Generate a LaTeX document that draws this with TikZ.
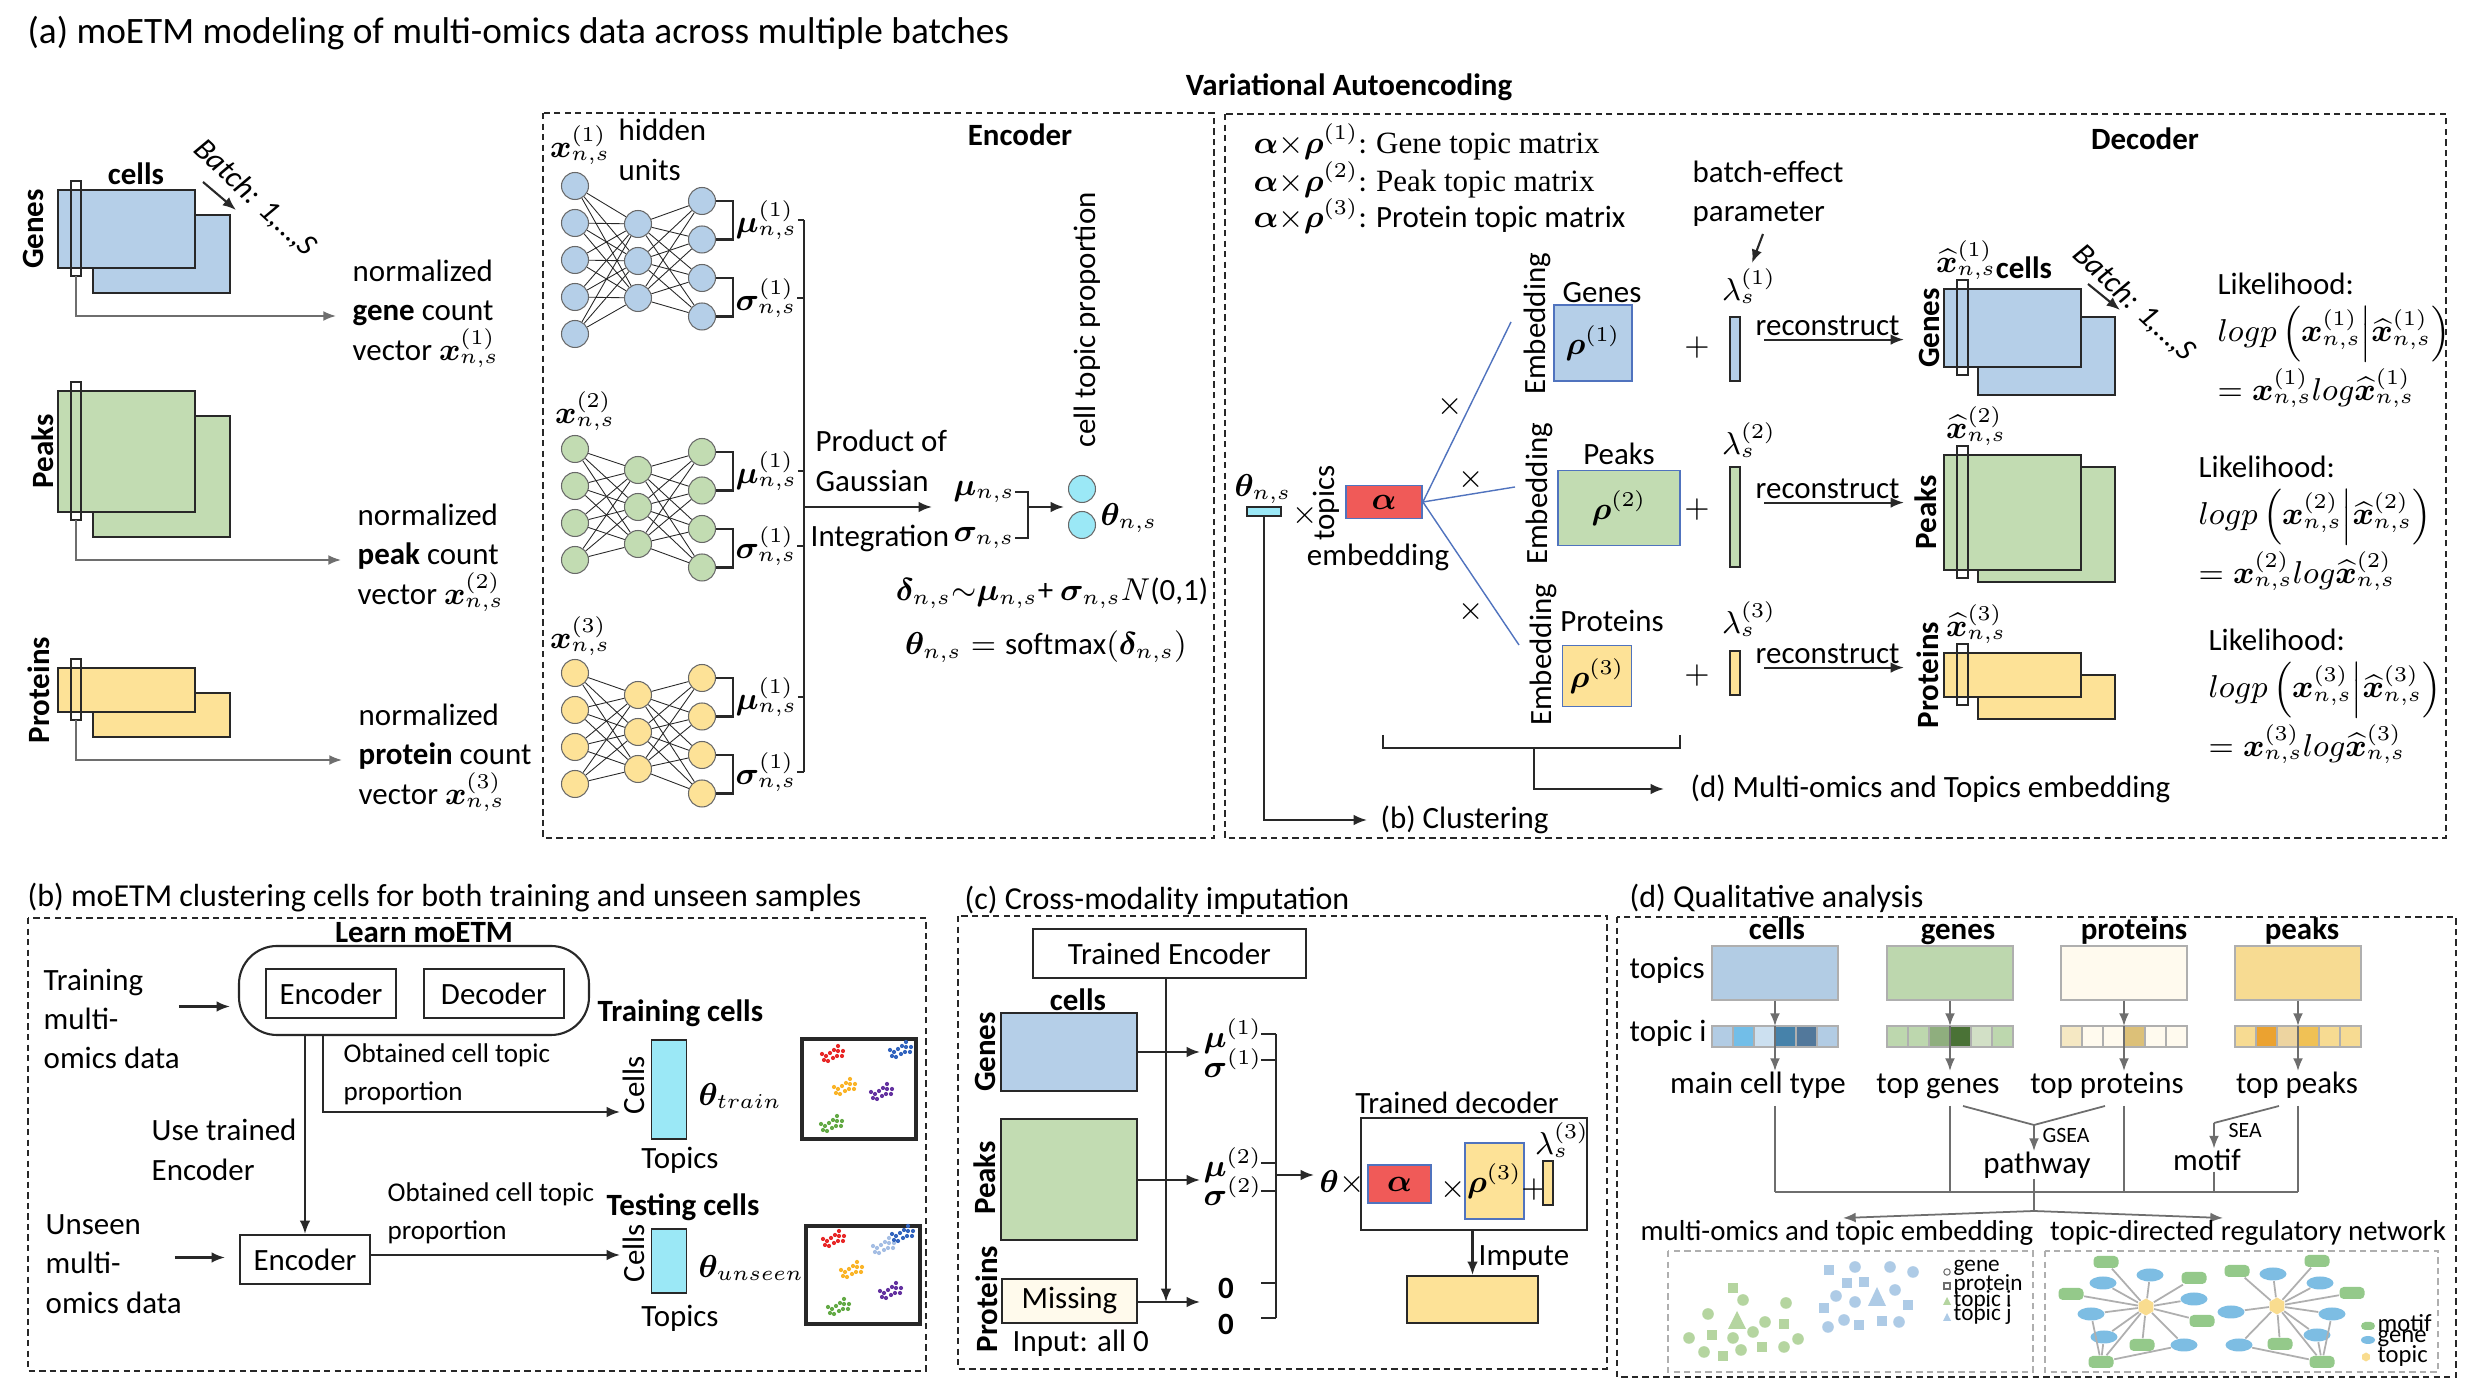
\documentclass[tikz,border=0pt]{standalone}
\usepackage{amsmath,amssymb,bm}
\usepackage{fontspec}
\setmainfont{Carlito}
\newfontfamily\serf{Liberation Serif}
\usetikzlibrary{arrows.meta, positioning, shapes.geometric, calc}
% modality colours
\definecolor{CB}{RGB}{181,207,232}
\definecolor{CG}{RGB}{194,220,178}
\definecolor{CY}{RGB}{253,226,151}
\definecolor{CR}{RGB}{240,90,88}
\definecolor{CC}{RGB}{155,232,246}
\definecolor{CW}{RGB}{255,250,236}
\definecolor{BE}{RGB}{80,115,190}
\definecolor{DG}{RGB}{40,40,40}
\definecolor{MG}{RGB}{110,110,110}
\definecolor{LG}{RGB}{175,175,175}
% scatter and network colours
\definecolor{SG}{RGB}{181,213,160}
\definecolor{SB}{RGB}{174,203,230}
\definecolor{NM}{RGB}{148,201,138}
\definecolor{NB}{RGB}{125,189,227}
\definecolor{NT}{RGB}{249,220,143}
\definecolor{DR}{RGB}{232,40,40}
\definecolor{DB}{RGB}{50,100,190}
\definecolor{DO}{RGB}{250,180,40}
\definecolor{DP}{RGB}{100,50,160}
\definecolor{DV}{RGB}{100,170,70}
\definecolor{DL}{RGB}{165,190,228}
% topic-i strips
\definecolor{ZA0}{RGB}{178,204,228}\definecolor{ZA1}{RGB}{178,204,228}\definecolor{ZA2}{RGB}{114,190,232}
\definecolor{ZA3}{RGB}{204,224,240}\definecolor{ZA4}{RGB}{70,130,170}\definecolor{ZA5}{RGB}{82,120,155}
\definecolor{ZA6}{RGB}{178,204,228}
\definecolor{ZB0}{RGB}{189,215,174}\definecolor{ZB1}{RGB}{189,215,174}\definecolor{ZB2}{RGB}{189,215,174}
\definecolor{ZB3}{RGB}{143,174,126}\definecolor{ZB4}{RGB}{74,114,54}\definecolor{ZB5}{RGB}{210,224,198}
\definecolor{ZB6}{RGB}{189,215,174}
\definecolor{ZC0}{RGB}{255,250,238}\definecolor{ZC1}{RGB}{245,232,195}\definecolor{ZC2}{RGB}{255,250,238}
\definecolor{ZC3}{RGB}{255,250,238}\definecolor{ZC4}{RGB}{220,192,120}\definecolor{ZC5}{RGB}{255,250,238}
\definecolor{ZC6}{RGB}{255,250,238}
\definecolor{ZD0}{RGB}{247,219,146}\definecolor{ZD1}{RGB}{247,219,146}\definecolor{ZD2}{RGB}{235,162,48}
\definecolor{ZD3}{RGB}{237,212,160}\definecolor{ZD4}{RGB}{240,193,85}\definecolor{ZD5}{RGB}{247,219,146}
\definecolor{ZD6}{RGB}{247,219,146}
\newdimen\pxu \pxu=0.01cm
\newcommand{\xns}[1]{\bm{x}^{(#1)}_{n,s}}
\newcommand{\xhn}[1]{\widehat{\bm{x}}^{(#1)}_{n,s}}

\begin{document}
\begin{tikzpicture}[x=0.01cm, y=-0.01cm,
  txt/.style={font=\fontsize{8.8}{11.2}\selectfont, inner sep=0pt},
  txtb/.style={font=\fontsize{8.8}{11.2}\selectfont\bfseries, inner sep=0pt},
  txtc/.style={font=\fontsize{7.7}{10.8}\selectfont, inner sep=0pt},
  txti/.style={font=\fontsize{8.8}{11.2}\selectfont\itshape, inner sep=0pt},
  ttl/.style={font=\fontsize{9.1}{11}\selectfont, inner sep=0pt, anchor=west},
  fsml/.style={font=\fontsize{6.2}{6.2}\selectfont, inner sep=0pt},
  fleg/.style={font=\fontsize{6.6}{4.6}\selectfont, inner sep=0pt},
  mat/.style={draw=DG, line width=0.6pt},
  strip/.style={draw=DG, line width=0.5pt},
  dbox/.style={draw=DG, dash pattern=on 1.8pt off 1.2pt, line width=0.5pt},
  ibox/.style={draw=LG, dash pattern=on 1.8pt off 1.2pt, line width=0.4pt},
  conn/.style={draw=DG, line width=0.6pt, -{Latex[length=3.8pt,width=3pt]}},
  gconn/.style={draw=MG, line width=0.5pt, -{Latex[length=3.6pt,width=2.8pt]}},
  brk/.style={draw=DG, line width=0.7pt},
  dline/.style={draw=MG, line width=0.5pt},
  wire/.style={draw=DG, line width=0.25pt},
  neu/.style={circle, draw=DG!70, line width=0.3pt, minimum size=27*\pxu, inner sep=0pt},
  tbox/.style={draw=DG, line width=0.6pt, inner sep=0pt, font=\fontsize{8.8}{11.2}\selectfont},
  emb/.style={draw=BE, line width=0.5pt, inner sep=0pt, font=\fontsize{8.8}{11.2}\selectfont},
  edg/.style={draw=LG, line width=0.5pt},
  motif/.style={rounded corners=1.2pt, fill=NM, minimum width=25*\pxu, minimum height=12*\pxu, inner sep=0pt},
  gene/.style={ellipse, fill=NB, minimum width=27*\pxu, minimum height=13*\pxu, inner sep=0pt},
  topic/.style={regular polygon, regular polygon sides=6, shape border rotate=30, fill=NT,
                minimum size=17*\pxu, inner sep=0pt}
]
\fill[white] (0,0) rectangle (2468,1392);
\useasboundingbox (0,0) rectangle (2468,1392);

% ================= (a) moETM modeling =================
\node[ttl, font=\fontsize{10.6}{12}\selectfont] (ta) at (27,33)
  {(a) moETM modeling of multi-omics data across multiple batches};
\node[txtb] (vae) at (1349,87) {Variational Autoencoding};

% input count matrices (front + next batch)
\foreach \k/\col/\yt/\h/\lx/\nm in {1/CB/190/78/33/Genes, 2/CG/391/121/43/Peaks, 3/CY/668/44/39/Proteins}{
  \draw[mat, fill=\col] (93,\yt+25) rectangle ++(137,\h);
  \draw[mat, fill=\col] (58,\yt) rectangle ++(137,\h);
  \draw[strip] (71,\yt-9) rectangle (81,\yt+\h+8);
  \coordinate (sa\k) at (76,\yt+\h+8);
  \node[txtb, rotate=90] (la\k) at (\lx,\yt+\h/2) {\nm};
}
\node[txtb] (ca) at (136,174) {cells};
\node[txti, rotate=-43] (ba) at (255,198) {Batch: 1,…,S};
\coordinate (bt1) at (203,182);
\coordinate (bt2) at (236,210);
\draw[conn] (bt1) -- (bt2);

\node[txt, anchor=west, align=left] (va1) at (352,314) {normalized\\\textbf{gene} count\\vector $\xns{1}$};
\node[txt, anchor=west, align=left] (va2) at (357,558) {normalized\\\textbf{peak} count\\vector $\xns{2}$};
\node[txt, anchor=west, align=left] (va3) at (358,758) {normalized\\\textbf{protein} count\\vector $\xns{3}$};
\foreach \k in {1,2,3}
  \draw[gconn] (sa\k) |- ($(va\k.west)+(-16,2)$);

% ---- encoder ----
\draw[dbox] (543,113) rectangle (1214,838);
\node[txtb] (enc) at (1020,135) {Encoder};
\node[txt] (xa1) at (580,145) {$\xns{1}$};
\node[txt, anchor=west, align=left] (hid) at (618,150) {hidden\\units};
\node[txt] (xa2) at (585,411) {$\xns{2}$};
\node[txt] (xa3) at (580,636) {$\xns{3}$};

% three small networks
\foreach \m/\col/\na/\ya/\yb/\yc in {1/CB/5/186/224/201, 2/CG/4/449/470/452, 3/CY/4/673/695/678}{
  \foreach \i in {1,...,\na} \node[neu, fill=\col] (n\m-a\i) at (575,\ya+37*\i-37) {};
  \foreach \i in {1,2,3} \node[neu, fill=\col] (n\m-b\i) at (638,\yb+37*\i-37) {};
  \foreach \i in {1,...,4} \node[neu, fill=\col] (n\m-c\i) at (702,\yc+38.5*\i-38.5) {};
  \foreach \i in {1,...,\na}{\foreach \j in {1,2,3} \draw[wire] (n\m-a\i) -- (n\m-b\j);}
  \foreach \i in {1,2,3}{\foreach \j in {1,...,4} \draw[wire] (n\m-b\i) -- (n\m-c\j);}
}
\coordinate (bus) at (804,0);
\foreach \m/\ym/\ys in {1/220/298, 2/471/546, 3/697/772}{
  \draw[brk] (n\m-c1.east) -- ++(17,0) |- (n\m-c2.east);
  \draw[brk] (n\m-c3.east) -- ++(17,0) |- (n\m-c4.east);
  \node[txt, anchor=west] (mu\m) at (735,\ym) {$\bm{\mu}^{(1)}_{n,s}$};
  \node[txt, anchor=west] (sg\m) at (735,\ys) {$\bm{\sigma}^{(1)}_{n,s}$};
  \draw[brk] (mu\m.east) -- (mu\m.east -| bus);
  \draw[brk] (sg\m.east) -- (sg\m.east -| bus);
}
\draw[brk] (mu1.east -| bus) -- (sg3.east -| bus);
\coordinate (pg) at (932,507);
\draw[conn] (pg -| bus) -- (pg);
\node[txt, anchor=west, align=left] (pog) at (815,461) {Product of\\Gaussian};
\node[txt, anchor=west] (intg) at (810,538) {Integration};
\node[txt] (mun) at (984,492) {$\bm{\mu}_{n,s}$};
\node[txt] (sgn) at (984,538) {$\bm{\sigma}_{n,s}$};
\coordinate (brx) at (1028,507);
\draw[brk] (mun.east) -| (brx) |- (sgn.east);
\node[neu, fill=CC] (th1) at (1082,489) {};
\node[neu, fill=CC] (th2) at (1082,525) {};
\coordinate (tht) at (1064,507);
\draw[conn] (brx) -- (tht);
\node[txt, anchor=west] (thl) at (1100,518) {$\bm{\theta}_{n,s}$};
\node[txt, rotate=90] (ctp) at (1087,320) {cell topic proportion};
\node[txt] (eq1) at (1052,593) {$\bm{\delta}_{n,s}{\sim}\bm{\mu}_{n,s}$+ $\bm{\sigma}_{n,s}N$(0,1)};
\node[txt] (eq2) at (1046,647) {$\bm{\theta}_{n,s}=\mathrm{softmax}(\bm{\delta}_{n,s})$};

% ---- decoder ----
\draw[dbox] (1225,114) rectangle (2446,838);
\node[txtb] (dec) at (2145,139) {Decoder};
\node[txt, anchor=west] (ar1) at (1253,142) {$\bm{\alpha}{\times}\bm{\rho}^{(1)}$: {\serf Gene topic matrix}};
\node[txt, anchor=west] (ar2) at (1253,180) {$\bm{\alpha}{\times}\bm{\rho}^{(2)}$: {\serf Peak topic matrix}};
\node[txt, anchor=west] (ar3) at (1253,216) {$\bm{\alpha}{\times}\bm{\rho}^{(3)}$: Protein topic matrix};
\node[txt, anchor=west, align=left] (bep) at (1692,194) {batch-effect\\parameter};
\coordinate (be1) at (1763,234);
\coordinate (be2) at (1752,263);
\draw[conn] (be1) -- (be2);

% theta -> alpha -> rho
\node[txt] (thd) at (1263,489) {$\bm{\theta}_{n,s}$};
\node[draw=DG, fill=CC, line width=0.5pt, minimum width=34*\pxu, minimum height=9*\pxu, inner sep=0pt] (thb) at (1264,511.5) {};
\node[txt] (tx0) at (1305,516) {$\times$};
\node[txt, rotate=90] (tpc) at (1326,503) {topics};
\node[emb, fill=CR, minimum width=76*\pxu, minimum height=33*\pxu] (al) at (1384,502) {$\bm{\alpha}$};
\node[txt] (embl) at (1378,557) {embedding};
\node[emb, fill=CB, minimum width=78*\pxu, minimum height=76*\pxu] (rho1) at (1593,343) {$\bm{\rho}^{(1)}$};
\node[emb, fill=CG, minimum width=122*\pxu, minimum height=75*\pxu] (rho2) at (1619,508) {$\bm{\rho}^{(2)}$};
\node[emb, fill=CY, minimum width=69*\pxu, minimum height=61*\pxu] (rho3) at (1597,676) {$\bm{\rho}^{(3)}$};
\node[txt] (rg1) at (1602,293) {Genes};
\node[txt] (rg2) at (1619,454) {Peaks};
\node[txt] (rg3) at (1612,621) {Proteins};
\foreach \k/\x/\y/\ex/\ey/\mx/\my in {1/1537/324/1511/322/1450/407, 2/1539/494/1515/487/1471/480, 3/1543/655/1519/645/1471/612}{
  \node[txt, rotate=90] (em\k) at (\x,\y) {Embedding};
  \coordinate (e\k) at (\ex,\ey);
  \draw[draw=BE, line width=0.4pt] (al.east) -- (e\k);
  \node[txt] (mx\k) at (\mx,\my) {$\times$};
}
\foreach \k/\col/\yb/\hb/\yl/\yp in {1/CB/317/64/286/348, 2/CG/467/100/440/510, 3/CY/651/44/619/676}{
  \draw[mat, fill=\col] (1730,\yb) rectangle ++(10,\hb);
  \node[txt] (lam\k) at (1749,\yl) {$\lambda_s^{(\k)}$};
  \node[txt] (pl\k) at (1697,\yp) {$+$};
}
\foreach \k/\yt in {1/326, 2/489, 3/654}{
  \node[txt, anchor=west] (rc\k) at (1755,\yt) {reconstruct};
  \draw[conn] ($(rc\k.south west)+(9,3)$) -- ++(140,0);
}

% reconstructed matrices
\foreach \k/\col/\yt/\h/\dy/\lx/\nm in {1/CB/289/78/28/1929/Genes, 2/CG/455/115/12/1926/Peaks, 3/CY/653/44/22/1928/Proteins}{
  \draw[mat, fill=\col] (1978,\yt+\dy) rectangle ++(137,\h);
  \draw[mat, fill=\col] (1944,\yt) rectangle ++(137,\h);
  \draw[strip] (1957,\yt-9) rectangle (1968,\yt+\h+8);
  \node[txtb, rotate=90] (ld\k) at (\lx,\yt+\h/2) {\nm};
}
\node[txt] (xh1) at (1966,260) {$\xhn{1}$};
\node[txt] (xh2) at (1976,426) {$\xhn{2}$};
\node[txt] (xh3) at (1976,624) {$\xhn{3}$};
\node[txtb] (cd) at (2024,268) {cells};
\node[txti, rotate=-43] (bd) at (2134,303) {Batch: 1,…,S};
\coordinate (bd1) at (2088,284);
\coordinate (bd2) at (2120,310);
\draw[conn] (bd1) -- (bd2);
\foreach \k/\x/\y in {1/2217/284, 2/2198/467, 3/2208/640}{
  \node[txt, anchor=west] (lk\k) at (\x,\y) {Likelihood:};
  \node[txt, anchor=west] (lp\k) at (\x,\y+50) {$logp\left(\xns{\k}\middle|\xhn{\k}\right)$};
  \node[txt, anchor=west] (lq\k) at (\x,\y+104) {$=\xns{\k}log\xhn{\k}$};
}

% outputs of (a)
\coordinate (bk1) at (1383,735);
\coordinate (bk2) at (1680,735);
\coordinate (bks) at (1534,748);
\draw[brk] (bk1) -- ++(0,13) -| (bk2);
\node[txt, anchor=west] (dme) at (1690,789) {(d) Multi-omics and Topics embedding};
\draw[conn] (bks) |- ($(dme.west)+(-26,0)$);
\node[txt, anchor=west] (bcl) at (1380,820) {(b) Clustering};
\draw[conn] (thb.south) |- ($(bcl.west)+(-13,0)$);

% ================= (b) clustering =================
\node[ttl] (tb) at (27,898) {(b) moETM clustering cells for both training and unseen samples};
\draw[dbox] (28,918) rectangle (926,1371);
\node[txtb] (lrn) at (424,933) {Learn moETM};
\node[draw=DG, line width=0.6pt, rounded corners=0.38cm, minimum width=350*\pxu, minimum height=89*\pxu] (lm) at (414,990.5) {};
\node[tbox, minimum width=130*\pxu, minimum height=49*\pxu] (enb1) at (331,993.5) {Encoder};
\node[tbox, minimum width=140*\pxu, minimum height=49*\pxu] (deb1) at (494,993.5) {Decoder};
\node[txt, anchor=west, align=left] (trd) at (43,1019) {Training\\multi-\\omics data};
\draw[conn] ($(lm.west)+(-59,16)$) -- ($(lm.west)+(-8,16)$);
\node[tbox, minimum width=130*\pxu, minimum height=49*\pxu] (enb2) at (305,1259.5) {Encoder};
\draw[conn] (enb2.north |- lm.south) -- (enb2.north);
\coordinate (ob0) at (323,1035);
\coordinate (ob1) at (620,1112);
\draw[conn] (ob0) |- (ob1);
\node[txtc, anchor=west, align=left] (oc1) at (343,1074) {Obtained cell topic\\proportion};
\node[txt, anchor=west, align=left] (ute) at (151,1150) {Use trained\\Encoder};
\node[txt, anchor=west, align=left] (usd) at (45,1264) {Unseen\\multi-\\omics data};
\draw[conn] ($(enb2.west)+(-64,-2)$) -- ($(enb2.west)+(-14,-2)$);
\coordinate (ob2) at (620,1255);
\draw[conn] (enb2.east |- ob2) -- (ob2);
\node[txtc, anchor=west, align=left] (oc2) at (387,1213) {Obtained cell topic\\proportion};

\node[txtb, anchor=west] (trc) at (597,1013) {Training cells};
\node[txtb, anchor=west] (tsc) at (606,1207) {Testing cells};
\foreach \k/\y/\h/\yc/\yt/\ylab/\sub in {1/1089.5/99/1085/1160/1096/train, 2/1261/64/1253/1318/1268/unseen}{
  \node[draw=DG, fill=CC, line width=0.5pt, minimum width=35*\pxu, minimum height=\h*\pxu, inner sep=0pt] (ct\k) at (669,\y) {};
  \node[txt, rotate=90] (cl\k) at (634,\yc) {Cells};
  \node[txt] (tp\k) at (680,\yt) {Topics};
  \node[txt, anchor=west] (thb\k) at (698,\ylab) {$\bm{\theta}_{\sub}$};
}
\node[draw=DG, line width=1.1pt, minimum width=114*\pxu, minimum height=100*\pxu, inner sep=0pt] (sc1) at (859,1089) {};
\node[draw=DG, line width=1.1pt, minimum width=114*\pxu, minimum height=98*\pxu, inner sep=0pt] (sc2) at (863,1275) {};
\foreach \cx/\cy/\col in {833/1055/DR, 901/1051/DB, 845/1088/DO, 882/1093/DP, 832/1125/DV,
                          834/1240/DR, 884/1247/DL, 903/1235/DB, 852/1271/DO, 891/1292/DP, 839/1308/DV}{
  \foreach \dx/\dy in {-9/5,-5/6,-7/1,-3/-2,1/-5,5/-9,5/-4,10/-4,4/1,9/1,-11/-1,0/3}
    \fill[\col] (\cx+\dx,\cy+\dy) circle[radius=0.021cm];
}

% ================= (c) imputation =================
\node[ttl] (tc) at (964,900) {(c) Cross-modality imputation};
\draw[dbox] (958,916) rectangle (1607,1369);
\node[tbox, minimum width=273*\pxu, minimum height=49*\pxu] (te) at (1169.5,953.5) {Trained Encoder};
\node[txtb] (cc) at (1078,1000) {cells};
\node[draw=DG, line width=0.6pt, fill=CB, minimum width=136*\pxu, minimum height=78*\pxu] (gc) at (1069,1052) {};
\node[draw=DG, line width=0.6pt, fill=CG, minimum width=136*\pxu, minimum height=121*\pxu] (pc) at (1069,1179.5) {};
\node[tbox, fill=CW, minimum width=135*\pxu, minimum height=44*\pxu] (mc) at (1069.5,1301) {Missing};
\node[txt, anchor=west] (ia0) at (1012,1343) {Input: all 0};
\node[txtb, rotate=90] (lc1) at (985,1052) {Genes};
\node[txtb, rotate=90] (lc2) at (985,1178) {Peaks};
\node[txtb, rotate=90] (lc3) at (987,1299) {Proteins};
\coordinate (cin1) at (1200,1052);
\coordinate (cin2) at (1200,1180);
\coordinate (cin3) at (1200,1302);
\draw[conn] (gc.east |- cin1) -- (cin1);
\draw[conn] (pc.east |- cin2) -- (cin2);
\draw[conn] (mc.east |- cin3) -- (cin3);
\draw[conn] (te.south -| 1166,0) -- (1166,1302);
\node[txt, anchor=west] (cm1) at (1203,1036) {$\bm{\mu}^{(1)}$};
\node[txt, anchor=west] (cs1) at (1203,1063) {$\bm{\sigma}^{(1)}$};
\node[txt, anchor=west] (cm2) at (1203,1165) {$\bm{\mu}^{(2)}$};
\node[txt, anchor=west] (cs2) at (1203,1191) {$\bm{\sigma}^{(2)}$};
\node[txt] (cz1) at (1226,1288) {$\mathbf{0}$};
\node[txt] (cz2) at (1226,1324) {$\mathbf{0}$};
\coordinate (cbus) at (1276,0);
\foreach \y in {1034,1060,1163,1191,1283,1318}
  \draw[brk] (1261,\y) -- (1276,\y);
\draw[brk] (1276,1034) -- (1276,1318);
\coordinate (cth) at (1314,1175);
\draw[conn] (cth -| cbus) -- (cth);
\node[txt, anchor=west] (thx) at (1319,1183) {$\bm{\theta}{\times}$};
\node[draw=DG, line width=0.6pt, minimum width=226*\pxu, minimum height=112*\pxu] (td) at (1474,1174) {};
\node[txt] (tdl) at (1457,1103) {Trained decoder};
\node[emb, fill=CR, minimum width=63*\pxu, minimum height=38*\pxu] (cal) at (1399.5,1184) {$\bm{\alpha}$};
\node[txt] (cx1) at (1453,1190) {$\times$};
\node[emb, fill=CY, minimum width=59*\pxu, minimum height=76*\pxu] (crho) at (1494.5,1181) {$\bm{\rho}^{(3)}$};
\node[txt] (cpl) at (1534,1190) {$+$};
\draw[mat, fill=CY] (1543,1161) rectangle (1553,1205);
\node[txt] (clam) at (1562,1140) {$\lambda_s^{(3)}$};
\node[draw=DG, line width=0.6pt, fill=CY, minimum width=131*\pxu, minimum height=47*\pxu] (imp) at (1472.5,1299.5) {};
\draw[conn] (td.south -| imp.north) -- (imp.north);
\node[txt, anchor=west] (impl) at (1478,1258) {Impute};

% ================= (d) qualitative analysis =================
\node[ttl] (td0) at (1629,898) {(d) Qualitative analysis};
\draw[dbox] (1617,917) rectangle (2456,1377);
\node[txt, anchor=west] (tps) at (1629,970) {topics};
\node[txt, anchor=west] (tpi) at (1629,1033) {topic i};
\foreach \k/\L/\xc/\hx/\nm/\lx/\lab in {1/A/1775/1777/cells/1758/main cell type, 2/B/1950/1958/genes/1938/top genes,
                                     3/C/2124/2134/proteins/2107/top proteins, 4/D/2298/2302/peaks/2297/top peaks}{
  \node[txtb, anchor=base] (hd\k) at (\hx,940) {\nm};
  \node[draw=LG, fill=Z\L0, minimum width=126*\pxu, minimum height=54*\pxu, inner sep=0pt] (tq\k) at (\xc,973) {};
  \foreach \i in {1,...,6}
    \draw[draw=LG, fill=Z\L\i, line width=0.3pt] (\xc-84+21*\i,1026) rectangle ++(21,21);
  \coordinate (si\k) at (\xc,1026);
  \node[txt, anchor=base] (lb\k) at (\lx,1094) {\lab};
  \draw[gconn] (tq\k.south) -- (si\k);
  \draw[gconn] (si\k) -- (\xc,1071);
  \coordinate (hb\k) at (\xc,1192);
  \draw[dline] (\xc,1106) -- (hb\k);
}
\draw[dline] (hb1) -- (hb4);
% GSEA / SEA
\coordinate (gs1) at (1963,1106);
\coordinate (gs2) at (2105,1106);
\coordinate (gs0) at (2034,1125);
\node[txt] (pw) at (2037,1165) {pathway};
\node[fsml, anchor=west] (gsea) at (2042,1136) {GSEA};
\draw[dline] (gs1) -- (gs0) -- (gs2);
\draw[gconn] (gs0) -- (gs0 |- pw.north);
\coordinate (hm) at (2034,1211);
\draw[dline] (gs0 |- pw.south) -- (hm);
\coordinate (ae1) at (1843,1218);
\coordinate (ae2) at (2223,1218);
\draw[gconn] (hm) -- (ae1);
\draw[gconn] (hm) -- (ae2);
\coordinate (se1) at (2279,1106);
\coordinate (se0) at (2214,1123);
\node[txt] (mtf) at (2207,1160) {motif};
\node[fsml, anchor=west] (sea) at (2228,1131) {SEA};
\draw[dline] (se1) -- (se0);
\draw[gconn] (se0) -- (se0 |- mtf.north);
\draw[dline] (se0 |- mtf.south) -- (se0 |- hb1);
\node[txt, font=\fontsize{8.2}{10}\selectfont] (moe) at (1837,1233) {multi-omics and topic embedding};
\node[txt, font=\fontsize{8.2}{10}\selectfont] (tdr) at (2248,1233) {topic-directed regulatory network};
\draw[ibox] (1668,1251) rectangle (2033,1372);
\draw[ibox] (2045,1251) rectangle (2438,1372);

% embedding scatter
\foreach \x/\y in {1743/1300, 1786/1303, 1708/1314, 1765/1322, 1753/1332, 1689/1338, 1733/1338,
                   1798/1339, 1784/1347, 1704/1352, 1741/1350}
  \fill[SG] (\x,\y) circle[radius=0.058cm];
\foreach \x/\y in {1733/1288, 1784/1324, 1712/1335, 1762/1347, 1723/1356}
  \fill[SG] (\x-5,\y-5) rectangle ++(10,10);
\fill[SG] (1737,1311) -- (1746,1329) -- (1728,1329) -- cycle;
\foreach \x/\y in {1855/1267, 1890/1267, 1913/1272, 1836/1296, 1895/1290, 1855/1302, 1828/1327,
                   1844/1320, 1899/1322}
  \fill[SB] (\x,\y) circle[radius=0.058cm];
\foreach \x/\y in {1829/1270, 1847/1283, 1864/1282, 1824/1308, 1908/1305, 1859/1325, 1882/1321}
  \fill[SB] (\x-5,\y-5) rectangle ++(10,10);
\fill[SB] (1877,1287) -- (1886,1306) -- (1868,1306) -- cycle;
\draw[MG, line width=0.3pt] (1947,1272) circle[radius=0.032cm];
\draw[MG, line width=0.3pt] (1944,1283) rectangle ++(6,6);
\fill[SG] (1947,1297) -- (1951,1305) -- (1943,1305) -- cycle;
\fill[SB] (1947,1313) -- (1951,1321) -- (1943,1321) -- cycle;
\node[fleg, anchor=west] (lgn) at (1953,1268) {gene};
\node[fleg, anchor=west] (lpr) at (1953,1284) {protein};
\node[fleg, anchor=west] (lti) at (1953,1300) {topic i};
\node[fleg, anchor=west] (ltj) at (1953,1315) {topic j};

% regulatory network
\node[topic] (tL) at (2146,1307) {};
\node[topic] (tR) at (2277,1306) {};
\foreach \n/\x/\y in {m1/2106/1262, m2/2194/1278, m3/2071/1294, m4/2202/1321, m5/2142/1345, m6/2101/1362,
                      m7/2237/1271, m8/2317/1261, m9/2352/1293, m10/2280/1344, m11/2322/1362}
  \node[motif] (\n) at (\x,\y) {};
\foreach \n/\x/\y in {g1/2150/1275, g2/2103/1283, g3/2194/1299, g4/2091/1314, g5/2104/1337, g6/2184/1345,
                      g7/2273/1274, g8/2320/1283, g9/2231/1312, g10/2332/1314, g11/2317/1335, g12/2239/1345}
  \node[gene] (\n) at (\x,\y) {};
\foreach \n in {m1,m2,m3,m4,m5,m6,g1,g2,g3,g4,g5,g6} \draw[edg] (tL) -- (\n);
\foreach \n in {m7,m8,m9,m10,m11,g7,g8,g9,g10,g11,g12} \draw[edg] (tR) -- (\n);
\foreach \a/\b in {g4/m6, g5/m6, g6/m6, g10/m11, g11/m11, g12/m11} \draw[edg] (\a) -- (\b);
\node[motif, minimum width=14*\pxu, minimum height=8*\pxu] (lgm) at (2368,1326) {};
\node[gene, minimum width=14*\pxu, minimum height=8*\pxu] (lgg) at (2368,1340) {};
\node[topic, minimum size=9*\pxu] (lgt) at (2366,1357) {};
\node[fleg, font=\fontsize{7}{7}\selectfont, anchor=west] (lmo) at (2377,1323) {motif};
\node[fleg, font=\fontsize{7}{7}\selectfont, anchor=west] (lge) at (2377,1339) {gene};
\node[fleg, font=\fontsize{7}{7}\selectfont, anchor=west] (lto) at (2377,1356) {topic};
\end{tikzpicture}
\end{document}
